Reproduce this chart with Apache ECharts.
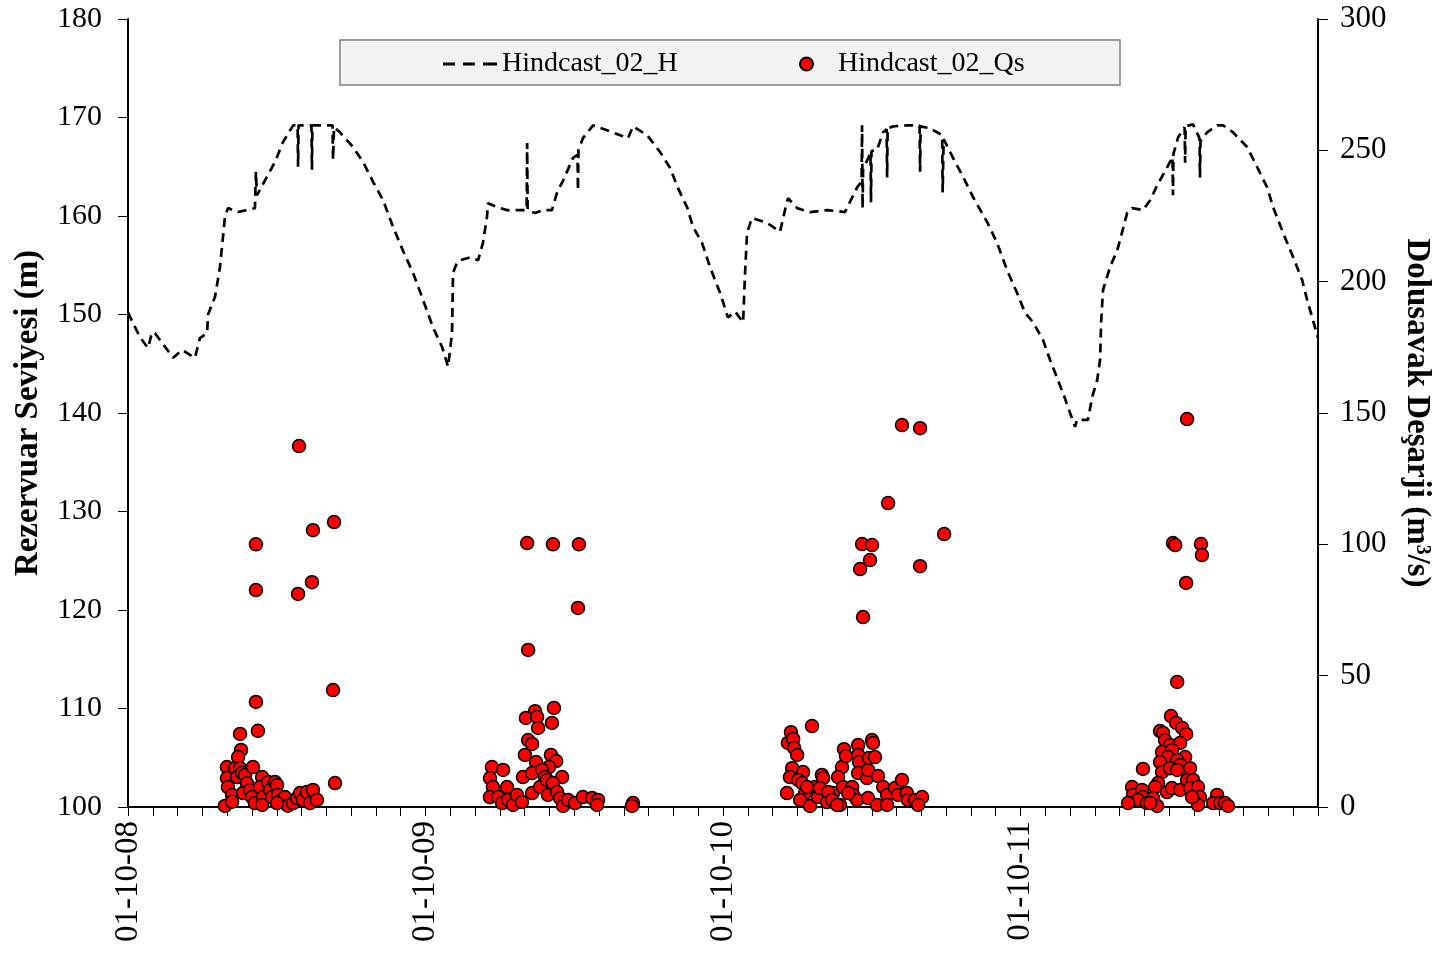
<!DOCTYPE html>
<html>
<head>
<meta charset="utf-8">
<script src="https://cdn.jsdelivr.net/npm/echarts@6/dist/echarts.min.js"></script>
<style>
  html, body { margin: 0; padding: 0; background: #fff; }
  #chart { width: 1443px; height: 955px; }
</style>
</head>
<body>
<div id="chart"></div>
<script>
// x in months since 01-10-2008
const yearLabels = ['01-10-08', '01-10-09', '01-10-10', '01-10-11'];

// reservoir level H (m), [month, level]
const hindcastH = [
  [0, 150.2], [0.48, 147.7], [0.81, 146.6], [0.97, 148.2], [1.09, 148.1], [1.82, 145.6], [2.18, 146.4],
  [2.70, 145.6], [2.90, 147.6], [3.19, 148.1], [3.23, 150], [3.51, 151.8], [3.71, 154.8], [3.91, 159.9],
  [4.03, 160.8], [4.44, 160.4], [5.12, 160.8], [5.16, 164.5], [5.20, 162.1], [5.61, 164], [5.93, 165.5],
  [6.25, 167.5], [6.66, 169.2], [6.84, 169.2], [6.86, 165], [6.88, 169.2], [7.40, 169.2], [7.42, 164.7],
  [7.44, 169.2], [8.25, 169.2], [8.27, 165.7], [8.31, 169], [8.55, 168.5], [9.08, 167], [9.48, 165.5],
  [9.88, 163.5], [10.29, 161.6], [10.69, 158.9], [11.09, 156.5], [11.50, 154.2], [11.90, 151.5],
  [12.30, 148.7], [12.67, 146.7], [12.91, 144.7], [13.07, 148.1], [13.11, 154.2], [13.27, 155.3],
  [13.39, 155.5], [13.80, 155.8], [14.12, 155.5], [14.32, 157.3], [14.48, 159.9], [14.52, 161.3],
  [14.88, 160.9], [15.29, 160.6], [15.81, 160.6], [16.08, 160.6], [16.10, 167.4], [16.12, 160.6],
  [16.42, 160.3], [16.74, 160.6], [17.10, 160.6], [17.31, 162.4], [17.55, 163.6], [17.95, 165.9],
  [18.13, 166.2], [18.15, 162.6], [18.17, 166.7], [18.35, 167.9], [18.76, 169.2], [19.32, 168.7],
  [19.85, 168.2], [20.17, 167.9], [20.37, 169.1], [20.94, 168.2], [21.46, 166.5], [21.86, 164.9],
  [22.19, 162.8], [22.55, 160.9], [22.79, 158.9], [23.15, 157.3], [23.48, 154.8], [23.88, 152.2],
  [24.20, 149.7], [24.49, 150.3], [24.81, 149.2], [24.89, 154.2], [24.97, 158.3], [25.17, 159.8],
  [25.78, 159.3], [26.30, 158.4], [26.50, 160.6], [26.62, 161.8], [26.99, 160.8], [27.51, 160.4],
  [28.20, 160.6], [28.92, 160.4], [29.41, 162.9], [29.59, 163.5], [29.61, 169.2], [29.63, 160.8],
  [29.65, 164.7], [29.95, 166.4], [29.97, 161.4], [29.99, 166.6], [30.21, 166.7], [30.46, 168.5],
  [30.60, 168.8], [30.62, 163.9], [30.64, 168.9], [30.86, 169.1], [31.42, 169.2], [31.93, 169.2],
  [31.95, 164.5], [31.97, 169.1], [32.35, 168.9], [32.84, 168.2], [32.86, 162.4], [32.90, 167.8],
  [33.28, 165.9], [33.68, 164], [34.09, 161.9], [34.65, 159.4], [35.05, 157.3], [35.46, 154.5],
  [35.86, 152.2], [36.18, 150.2], [36.51, 149.2], [36.91, 147.4], [37.19, 145.4], [37.47, 143.6],
  [37.72, 142], [38.00, 140], [38.20, 138.6], [38.28, 139.3], [38.72, 139.3], [38.89, 141.6],
  [39.09, 143.3], [39.21, 145.4], [39.25, 149.1], [39.33, 152.5], [39.61, 154.8], [39.90, 156.5],
  [40.02, 157.6], [40.30, 160.3], [40.50, 160.8], [40.94, 160.6], [41.23, 161.6], [41.51, 163.1],
  [41.91, 164.9], [42.13, 166], [42.15, 162.1], [42.17, 166.3], [42.36, 168], [42.62, 169],
  [42.64, 165.4], [42.66, 169.1], [42.96, 169.3], [43.22, 167.9], [43.24, 163.9], [43.26, 167.6],
  [43.53, 168.5], [43.93, 169.2], [44.17, 169.2], [44.57, 168.5], [45.14, 167], [45.54, 165],
  [45.95, 162.9], [46.19, 160.9], [46.59, 158.3], [47.00, 155.8], [47.36, 153.5], [47.56, 151.5],
  [47.80, 149.4], [48, 147.6]
];

// spillway discharge Qs (m3/s), [month, discharge]
const qs2009 = [
  [5.16, 100], [5.16, 82.6], [5.16, 40], [5.24, 29], [4.52, 27.8], [4.56, 21.7], [4.44, 19],
  [6.90, 137.4], [7.46, 105.4], [7.42, 85.6], [6.86, 81.1], [8.31, 108.5], [8.27, 44.5], [8.35, 9.1],
  [3.99, 15.2], [3.99, 11], [4.03, 7.6], [4.20, 4.6], [3.91, 0.4], [4.20, 2], [4.32, 14.8], [4.40, 11.4],
  [4.52, 14.8], [4.60, 13], [4.72, 12.2], [4.80, 9], [4.64, 5.3], [4.92, 6.5], [5.04, 15.2], [5.00, 3.8],
  [5.12, 1.5], [5.41, 11.4], [5.32, 7.6], [5.45, 3.8], [5.41, 0.8], [5.65, 9.5], [5.73, 6.5], [5.93, 9.5],
  [6.01, 8.4], [5.81, 3.8], [6.05, 4.6], [6.21, 2.7], [6.33, 3.8], [6.45, 0.5], [6.66, 1.5], [6.82, 3.4],
  [6.94, 5.3], [7.06, 2.7], [7.22, 5.7], [7.34, 1.5], [7.46, 6.5], [7.62, 2.7], [6.01, 1.5]
];
const qs2010 = [
  [16.10, 100.5], [17.14, 100], [18.19, 100], [18.15, 75.8], [16.14, 59.8], [17.18, 37.7], [17.10, 32],
  [16.42, 36.5], [16.05, 33.9], [16.50, 34.3], [16.54, 30.1], [16.14, 25.5], [16.30, 24], [16.01, 19.8],
  [16.46, 17.1], [17.06, 19.8], [17.27, 17.5], [16.98, 15.2], [17.51, 11.4], [15.93, 11.4], [16.30, 12.9],
  [16.70, 14.1], [16.82, 11.4], [14.68, 15.2], [15.13, 14.1], [14.60, 11], [14.72, 7.6], [15.29, 7.6],
  [14.60, 3.8], [14.93, 3.8], [15.09, 1.5], [15.33, 2.7], [15.53, 0.8], [15.69, 4.6], [15.89, 1.9],
  [16.30, 5.3], [16.62, 7.6], [16.90, 10.3], [16.94, 4.6], [17.14, 9.1], [17.31, 5.7], [17.43, 3.4],
  [17.55, 0.4], [17.75, 2.7], [18.03, 1.5], [18.35, 3.8], [18.72, 3.4], [18.96, 2.7], [18.92, 0.8],
  [20.37, 1.5], [20.33, 0.4]
];
const qs2011 = [
  [31.22, 145.4], [31.95, 144.2], [30.66, 115.7], [32.92, 103.9], [29.61, 100.1], [30.01, 99.7],
  [29.93, 94], [29.53, 90.6], [31.95, 91.7], [29.65, 72.3], [27.59, 30.8], [26.74, 28.5], [26.62, 24.4],
  [26.83, 25.9], [26.87, 22.5], [26.99, 19.8], [26.79, 14.8], [27.23, 13.3], [26.70, 11.4], [27.03, 10.3],
  [26.58, 5.3], [27.99, 12.2], [28.04, 11], [27.71, 7.6], [27.31, 5.3], [27.11, 2.7], [27.51, 0.4],
  [27.83, 3.8], [28.20, 1.9], [28.44, 5.3], [28.80, 15.2], [28.88, 22], [28.96, 19.4], [28.64, 11.4],
  [28.84, 7.6], [28.72, 0.8], [29.21, 7.6], [29.25, 4.6], [29.41, 2.7], [29.45, 23.6], [29.45, 19.8],
  [29.49, 17.1], [29.45, 12.9], [29.81, 11], [29.85, 14.1], [30.01, 25.5], [30.05, 24.4], [29.89, 18.7],
  [30.13, 19], [29.85, 3.4], [30.25, 11.8], [30.46, 7.6], [30.62, 4.6], [30.21, 0.8], [30.62, 0.8],
  [30.94, 7.2], [31.22, 10.3], [31.06, 4.6], [31.42, 5.3], [31.46, 2.7], [31.75, 2.7], [32.03, 3.8],
  [31.87, 0.8], [27.19, 9.1], [27.39, 7.6], [27.91, 7.2], [28.24, 5.7], [28.40, 2.7], [28.60, 0.8],
  [29.05, 5.3]
];
const qs2012 = [
  [42.72, 147.7], [42.15, 100.5], [42.24, 99.7], [43.28, 100.1], [43.32, 95.9], [42.68, 85.3],
  [42.32, 47.6], [42.07, 34.6], [42.28, 32], [42.52, 30.1], [42.68, 27.8], [41.63, 28.9], [41.75, 28.2],
  [41.83, 25.5], [42.03, 23.6], [42.44, 24.4], [41.71, 20.9], [42.11, 21.7], [41.95, 19], [42.64, 19],
  [41.63, 17.1], [42.32, 17.9], [42.44, 16], [42.84, 14.8], [41.71, 13.3], [42.03, 14.8], [42.32, 14.1],
  [40.94, 14.5], [41.55, 9.1], [41.43, 7.6], [41.91, 5.7], [42.11, 7.2], [42.44, 6.5], [42.72, 10.3],
  [42.96, 10.3], [42.84, 7.2], [43.16, 7.6], [43.24, 3.8], [43.16, 0.8], [42.92, 3.8], [40.50, 7.6],
  [40.54, 4.6], [40.90, 6.5], [40.94, 3.8], [40.74, 2.7], [40.34, 1.5], [41.10, 1.5], [41.35, 3.4],
  [41.51, 0.4], [41.23, 1.5], [43.93, 4.6], [43.77, 1.5], [44.05, 1.5], [44.25, 1.5], [44.37, 0.4]
];

const FONT = 'Liberation Serif';
const chart = echarts.init(document.getElementById('chart'));

const option = {
  backgroundColor: '#fff',
  animation: false,
  grid: { left: 128, right: 125, top: 19, bottom: 148, containLabel: false },
  graphic: [{
    type: 'rect',
    z: 0,
    shape: { x: 340, y: 40, width: 780, height: 45 },
    style: { fill: '#f2f2f2', stroke: '#7f7f7f', lineWidth: 1.5 }
  }],
  legend: [
    {
      // dashed-line icon, three dashes
      data: [{ name: 'Hindcast_02_H', icon: 'path://M0,0h12v3h-12z M20,0h12v3h-12z M40,0h14v3h-14z' }],
      left: 443, top: 50, padding: 0,
      itemWidth: 54, itemHeight: 3,
      itemStyle: { color: '#000' },
      textStyle: { fontFamily: FONT, fontSize: 28, color: '#000' }
    },
    {
      data: ['Hindcast_02_Qs'],
      left: 799, top: 50, padding: 0,
      itemWidth: 13, itemHeight: 13,
      textStyle: { fontFamily: FONT, fontSize: 28, color: '#000', padding: [0, 0, 0, 20] }
    }
  ],
  xAxis: {
    type: 'value',
    min: 0, max: 48, interval: 1,
    splitLine: { show: false },
    axisLine: { lineStyle: { color: '#000', width: 2 } },
    axisTick: { length: 9, lineStyle: { color: '#000', width: 1 } },
    axisLabel: {
      rotate: 90, margin: 14,
      fontFamily: FONT, fontSize: 33, color: '#000',
      formatter: (v) => (v % 12 === 0 && v < 48 ? yearLabels[v / 12] : '')
    }
  },
  yAxis: [
    {
      type: 'value', min: 100, max: 180, interval: 10,
      name: 'Rezervuar Seviyesi (m)', nameLocation: 'middle', nameGap: 83,
      nameTextStyle: { fontFamily: FONT, fontSize: 33, fontWeight: 'bold', color: '#000' },
      splitLine: { show: false },
      axisLine: { show: true, lineStyle: { color: '#000', width: 2 } },
      axisTick: { show: true, length: 10, lineStyle: { color: '#000', width: 1 } },
      axisLabel: { margin: 26, fontFamily: FONT, fontSize: 30, color: '#000' }
    },
    {
      type: 'value', min: 0, max: 300, interval: 50, position: 'right',
      name: 'Dolusavak Deşarji (m³/s)', nameLocation: 'middle', nameGap: 82, nameRotate: -90,
      nameTextStyle: { fontFamily: FONT, fontSize: 33, fontWeight: 'bold', color: '#000' },
      splitLine: { show: false },
      axisLine: { show: true, lineStyle: { color: '#000', width: 2 } },
      axisTick: { show: true, length: 10, lineStyle: { color: '#000', width: 1 } },
      axisLabel: { margin: 22, fontFamily: FONT, fontSize: 31, color: '#000' }
    }
  ],
  series: [
    {
      name: 'Hindcast_02_H', type: 'line', yAxisIndex: 0,
      data: hindcastH, showSymbol: false, symbol: 'none',
      lineStyle: { color: '#000', width: 2.7, type: [9, 6] },
      itemStyle: { color: '#000' }
    },
    ...[qs2009, qs2010, qs2011, qs2012].map((d) => ({
      name: 'Hindcast_02_Qs', type: 'scatter', yAxisIndex: 1,
      data: d, symbolSize: 13,
      itemStyle: { color: '#ff0000', borderColor: '#000', borderWidth: 1.5, opacity: 1 }
    }))
  ]
};

chart.setOption(option);
</script>
</body>
</html>
